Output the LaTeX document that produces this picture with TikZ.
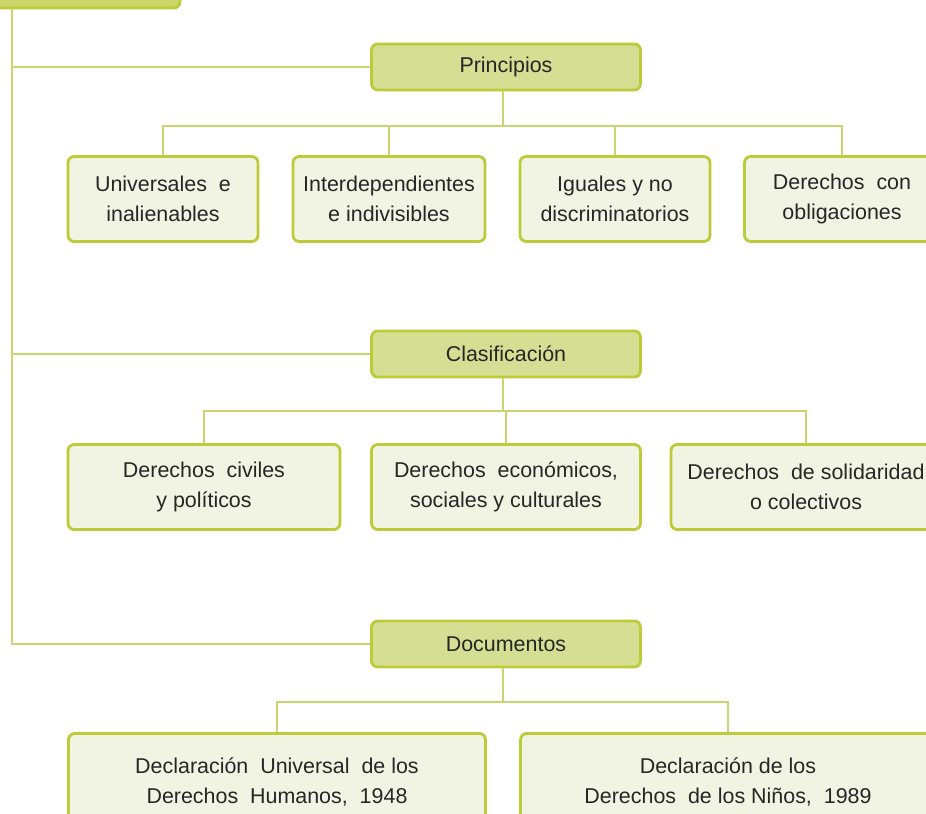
\documentclass[tikz,border=0pt]{standalone}
\usepackage{fontspec}
\setmainfont{Liberation Sans}
\usetikzlibrary{positioning,calc}
\definecolor{rootfill}{HTML}{CDD66B}
\definecolor{headfill}{HTML}{D6DE93}
\definecolor{leaffill}{HTML}{F2F4E3}
\definecolor{rim}{HTML}{BCCB38}
\definecolor{wire}{HTML}{C8D672}
\definecolor{ink}{HTML}{262626}
\tikzset{
  headbox/.style={draw=rim, fill=headfill, rounded corners=3.5pt, line width=1.6pt,
                  minimum width=5.38cm, minimum height=0.92cm, inner sep=2pt,
                  text=ink, font=\fontsize{12.2pt}{17pt}\selectfont},
  leafbox/.style={draw=rim, fill=leaffill, rounded corners=3.5pt, line width=1.6pt,
                  minimum height=1.7cm, inner sep=2pt, align=center,
                  text=ink, font=\fontsize{12.2pt}{17pt}\selectfont},
  link/.style={draw=wire, line width=1.1pt}
}
\begin{document}
\begin{tikzpicture}[x=0.02cm,y=-0.02cm]
  \clip (0,0) rectangle (926,814);
  \fill[white] (0,0) rectangle (926,814);

  % root box, cut by the top edge
  \node[draw=rim, fill=rootfill, rounded corners=3.5pt, line width=1.6pt,
        minimum width=4.4cm, minimum height=1.2cm] (root) at (70,-22) {};
  \coordinate (trunk) at (12,8);

  % Principios
  \node[headbox] (princ) at (506,67) {Principios};
  \node[leafbox, minimum width=3.8cm] (p1) at (163,199) {Universales\ \ e\\inalienables};
  \node[leafbox, minimum width=3.84cm] (p2) at (389,199) {Interdependientes\\e indivisibles};
  \node[leafbox, minimum width=3.8cm] (p3) at (615,199) {Iguales y no\\discriminatorios};
  \node[leafbox, minimum width=3.9cm] (p4) at (842,199) {Derechos\ \ con\\obligaciones};
  \coordinate (pbus) at (503,126);

  % Clasificacion
  \node[headbox] (clasif) at (506,354) {Clasificación};
  \node[leafbox, minimum width=5.44cm] (c1) at (204,487) {Derechos\ \ civiles\\y políticos};
  \node[leafbox, minimum width=5.38cm] (c2) at (506,487) {Derechos\ \ económicos,\\sociales\ y culturales};
  \node[leafbox, minimum width=5.4cm] (c3) at (806,487) {Derechos\ \ de solidaridad\\o colectivos};
  \coordinate (cbus) at (503,411);

  % Documentos
  \node[headbox] (docs) at (506,644) {Documentos};
  \node[leafbox, minimum width=8.34cm, minimum height=1.94cm] (d1) at (277,782)
    {Declaración\ \ Universal\ \ de los\\Derechos\ \ Humanos,\ \ 1948};
  \node[leafbox, minimum width=8.3cm, minimum height=1.94cm] (d2) at (728,782)
    {Declaración de los\\Derechos\ \ de los Niños,\ \ 1989};
  \coordinate (dbus) at (503,702);

  % trunk and branches
  \draw[link] (trunk) -- (trunk |- docs.west) -- (docs.west);
  \draw[link] (trunk |- princ.west) -- (princ.west);
  \draw[link] (trunk |- clasif.west) -- (clasif.west);

  \draw[link] (princ.south -| pbus) -- (pbus);
  \foreach \n in {p1,p2,p3,p4} {
    \draw[link] (pbus) -| (\n.north);
  }
  \draw[link] (clasif.south -| cbus) -- (cbus);
  \foreach \n in {c1,c2,c3} {
    \draw[link] (cbus) -| (\n.north);
  }
  \draw[link] (docs.south -| dbus) -- (dbus);
  \foreach \n in {d1,d2} {
    \draw[link] (dbus) -| (\n.north);
  }
\end{tikzpicture}
\end{document}
